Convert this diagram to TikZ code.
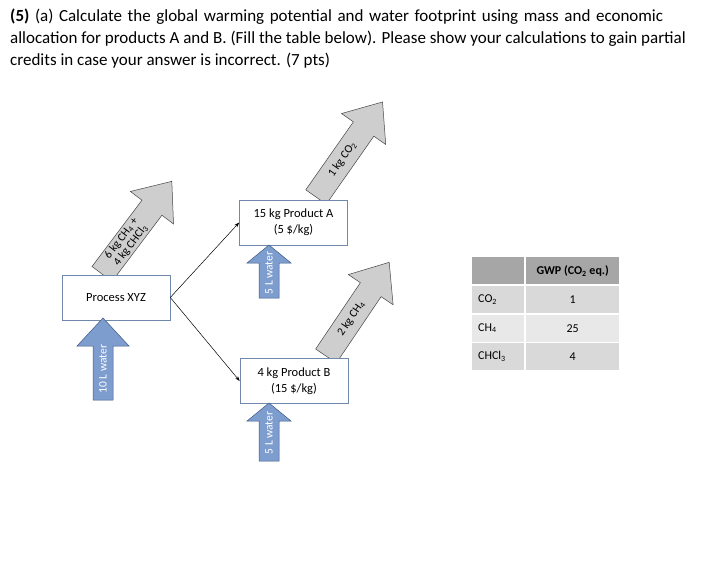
\documentclass[tikz,border=0pt]{standalone}
\usepackage{fontspec}
\setmainfont{Carlito}
\usetikzlibrary{arrows.meta}
\definecolor{boxline}{RGB}{112,136,172}
\definecolor{waterblue}{RGB}{126,157,207}
\definecolor{waterline}{RGB}{62,88,134}
\definecolor{emisgray}{RGB}{206,206,206}
\definecolor{emisline}{RGB}{70,70,70}
\definecolor{hdrgray}{RGB}{166,166,166}
\definecolor{rowgray}{RGB}{217,217,217}
\definecolor{rowlight}{RGB}{232,232,232}

\begin{document}
\begin{tikzpicture}[x=1pt,y=-1pt,
    unitbox/.style={draw=boxline,fill=white,line width=0.6pt,minimum width=108pt,minimum height=45pt,
      inner sep=0pt,align=center,font=\fontsize{12.5}{16}\selectfont},
    emisarrow/.style={draw=emisline,fill=emisgray,line width=0.5pt,line join=miter},
    emistext/.style={font=\fontsize{11.5}{11.5}\selectfont,align=center,inner sep=0pt},
    waterarrow/.style={draw=waterline,fill=waterblue,line width=0.5pt,line join=miter},
    watertext/.style={font=\fontsize{11.5}{12}\selectfont,text=white,rotate=90,inner sep=0pt},
    flow/.style={-{Stealth[length=5pt,width=3.5pt]},line width=0.5pt},
    hdrcell/.style={fill=hdrgray,minimum height=27pt,inner sep=0pt,anchor=north west,font=\fontsize{12}{14}\selectfont},
    cellA/.style={minimum height=27pt,text width=40pt,inner xsep=6pt,inner ysep=0pt,align=left,anchor=north west,font=\fontsize{12}{14}\selectfont},
    cellB/.style={minimum height=27pt,text width=81pt,inner xsep=6pt,inner ysep=0pt,align=center,anchor=north west,font=\fontsize{12}{14}\selectfont},
    titleline/.style={anchor=base west,inner sep=0pt,font=\fontsize{17}{21}\selectfont}]
    \useasboundingbox[fill=white] (0,0) rectangle (709,578);

    % question text
    \node[titleline] (title1) at (10,22) {\makebox[653pt][s]{\textbf{(5)} (a) Calculate the global warming potential and water footprint using mass and economic}};
    \node[titleline] (title2) at (10,44) {allocation for products A and B. (Fill the table below). Please show your calculations to gain partial};
    \node[titleline] (title3) at (10,66) {credits in case your answer is incorrect. (7 pts)};

    % emissions to air
    \begin{scope}[shift={(102,274)},rotate=53]
      \draw[emisarrow] (0,-12.5) -- (83,-12.5) -- (83,-27) -- (116,0) -- (83,27) -- (83,12.5) -- (0,12.5) -- cycle;
      \node[emistext,rotate=53] (airXYZ) at (40,0) {6 kg CH\textsubscript{4} +\\4 kg CHCl\textsubscript{3}};
    \end{scope}
    \begin{scope}[shift={(316,197)},rotate=55]
      \draw[emisarrow] (0,-12.5) -- (83,-12.5) -- (83,-27) -- (116,0) -- (83,27) -- (83,12.5) -- (0,12.5) -- cycle;
      \node[emistext,rotate=55] (airA) at (46,0) {1 kg CO\textsubscript{2}};
    \end{scope}
    \begin{scope}[shift={(326,356)},rotate=56]
      \draw[emisarrow] (0,-12.5) -- (80,-12.5) -- (80,-27) -- (113,0) -- (80,27) -- (80,12.5) -- (0,12.5) -- cycle;
      \node[emistext,rotate=56] (airB) at (45,0) {2 kg CH\textsubscript{4}};
    \end{scope}

    % process and products
    \node[unitbox] (xyz) at (116,297.5) {Process XYZ};
    \node[unitbox] (prodA) at (293.5,222.5) {15 kg Product A\\(5 \$/kg)};
    \node[unitbox] (prodB) at (294,381) {4 kg Product B\\(15 \$/kg)};

    \draw[flow] (xyz.east) -- (prodA.west);
    \draw[flow] (xyz.east) -- (prodB.west);

    % water inputs
    \draw[waterarrow] (93,400) -- (93,346) -- (77,346) -- (103,318) -- (129,346) -- (113,346) -- (113,400) -- cycle;
    \node[watertext] (wXYZ) at (103,369) {10 L water};
    \draw[waterarrow] (259,298) -- (259,263) -- (247,263) -- (269,245) -- (291,263) -- (279,263) -- (279,298) -- cycle;
    \node[watertext] (wA) at (269,273) {5 L water};
    \draw[waterarrow] (259,461) -- (259,421) -- (247,421) -- (269,403) -- (291,421) -- (279,421) -- (279,461) -- cycle;
    \node[watertext] (wB) at (269,433) {5 L water};

    % GWP table
    \node[hdrcell,minimum width=52pt] (h1) at (472,257) {};
    \node[hdrcell,minimum width=93pt] (h2) at (526,257) {\textbf{GWP (CO\textsubscript{2} eq.)}};
    \node[cellA,fill=rowgray] (r1a) at (472,286) {CO\textsubscript{2}};
    \node[cellB,fill=rowgray] (r1b) at (526,286) {1};
    \node[cellA,fill=rowlight] (r2a) at (472,314.5) {CH\textsubscript{4}};
    \node[cellB,fill=rowlight] (r2b) at (526,314.5) {25};
    \node[cellA,fill=rowgray] (r3a) at (472,343) {CHCl\textsubscript{3}};
    \node[cellB,fill=rowgray] (r3b) at (526,343) {4};
\end{tikzpicture}
\end{document}
